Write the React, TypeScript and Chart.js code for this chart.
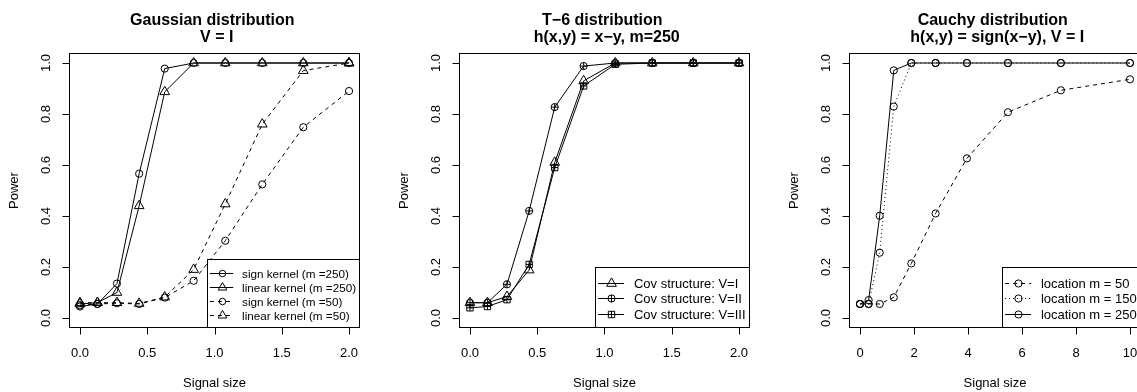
import React, { useEffect, useRef } from "react";
import { Chart, registerables } from "chart.js";

Chart.register(...registerables);

const FONT = '"Liberation Sans", Arial, Helvetica, sans-serif';

// ---------------- data ----------------
const signalSizes = [0, 0.13, 0.275, 0.44, 0.63, 0.845, 1.08, 1.355, 1.66, 2.0];
const gaussSignM250 = [0.045, 0.055, 0.135, 0.566, 0.978, 1.0, 1.0, 1.0, 1.0, 1.0];
const gaussLinearM250 = [0.055, 0.06, 0.1, 0.44, 0.887, 1.0, 1.0, 1.0, 1.0, 1.0];
const gaussSignM50 = [0.05, 0.055, 0.058, 0.055, 0.08, 0.146, 0.303, 0.524, 0.748, 0.89];
const gaussLinearM50 = [0.06, 0.06, 0.06, 0.057, 0.082, 0.19, 0.447, 0.76, 0.97, 1.0];

const t6CovI = [0.06, 0.06, 0.084, 0.188, 0.61, 0.93, 1.0, 1.0, 1.0, 1.0];
const t6CovII = [0.06, 0.06, 0.132, 0.42, 0.827, 0.988, 1.0, 1.0, 1.0, 1.0];
const t6CovIII = [0.04, 0.045, 0.072, 0.21, 0.59, 0.91, 0.995, 1.0, 1.0, 1.0];

const cauchySizes = [0, 0.32, 0.73, 1.25, 1.9, 2.8, 3.96, 5.48, 7.44, 10];
const cauchyM50 = [0.055, 0.055, 0.055, 0.081, 0.214, 0.41, 0.626, 0.807, 0.893, 0.936];
const cauchyM150 = [0.055, 0.055, 0.256, 0.829, 1.0, 1.0, 1.0, 1.0, 1.0, 1.0];
const cauchyM250 = [0.055, 0.07, 0.401, 0.971, 1.0, 1.0, 1.0, 1.0, 1.0, 1.0];

const powerTicks = [0, 0.2, 0.4, 0.6, 0.8, 1.0];
const powerTickLabels = ["0.0", "0.2", "0.4", "0.6", "0.8", "1.0"];
const signalTicks = [0, 0.5, 1.0, 1.5, 2.0];
const signalTickLabels = ["0.0", "0.5", "1.0", "1.5", "2.0"];
const cauchyTicks = [0, 2, 4, 6, 8, 10];
const cauchyTickLabels = ["0", "2", "4", "6", "8", "10"];

const xAxisTitle = "Signal size";
const yAxisTitle = "Power";

const gaussTitle = ["Gaussian distribution ", " V = I"];
const t6Title = ["T\u22126 distribution ", " h(x,y) = x\u2212y, m=250"];
const cauchyTitle = ["Cauchy distribution ", " h(x,y) = sign(x\u2212y), V = I"];

// ---------------- markers (R pch shapes, vector) ----------------
function drawMarker(ctx: CanvasRenderingContext2D, kind: string, x: number, y: number, s = 1) {
  const r = 3.6 * s;
  ctx.save();
  ctx.setLineDash([]);
  ctx.strokeStyle = "#000";
  ctx.lineWidth = 1;
  ctx.beginPath();
  if (kind === "circle" || kind === "circlePlus") {
    ctx.moveTo(x + r, y);
    ctx.arc(x, y, r, 0, Math.PI * 2);
  }
  if (kind === "circlePlus") {
    ctx.moveTo(x - r, y);
    ctx.lineTo(x + r, y);
    ctx.moveTo(x, y - r);
    ctx.lineTo(x, y + r);
  }
  if (kind === "triangle") {
    const tr = 1.5551 * r;
    const tx = 1.3468 * r;
    const ty = 0.7776 * r;
    ctx.moveTo(x, y - tr);
    ctx.lineTo(x + tx, y + ty);
    ctx.lineTo(x - tx, y + ty);
    ctx.closePath();
  }
  if (kind === "squarePlus") {
    const h = 0.8862 * r;
    ctx.rect(x - h, y - h, 2 * h, 2 * h);
    ctx.moveTo(x - h, y);
    ctx.lineTo(x + h, y);
    ctx.moveTo(x, y - h);
    ctx.lineTo(x, y + h);
  }
  ctx.stroke();
  ctx.restore();
}

// ---------------- panel definitions ----------------
type SeriesDef = { label: string; values: number[]; marker: string; dash: number[] };
type PanelDef = {
  xs: number[];
  series: SeriesDef[];
  xMin: number;
  xMax: number;
  xTicks: number[];
  xTickLabels: string[];
  title: string[];
  legendScale: number;
  canvasLeft: number;
  canvasWidth: number;
  plotLeft: number;
  plotRight: number;
};

const DASHED = [4, 4];
const DOTTED = [1, 3];
const SOLID: number[] = [];

const PLOT_TOP = 52.8;
const PLOT_BOTTOM = 328.2;
const H = 392;

const panels: PanelDef[] = [
  {
    xs: signalSizes,
    series: [
      { label: "sign kernel (m =250)", values: gaussSignM250, marker: "circle", dash: SOLID },
      { label: "linear kernel (m =250)", values: gaussLinearM250, marker: "triangle", dash: SOLID },
      { label: "sign kernel (m =50)", values: gaussSignM50, marker: "circle", dash: DASHED },
      { label: "linear kernel (m =50)", values: gaussLinearM50, marker: "triangle", dash: DASHED },
    ],
    xMin: -0.08,
    xMax: 2.08,
    xTicks: signalTicks,
    xTickLabels: signalTickLabels,
    title: gaussTitle,
    legendScale: 0.9,
    canvasLeft: 0,
    canvasWidth: 380,
    plotLeft: 69.2,
    plotRight: 359.8,
  },
  {
    xs: signalSizes,
    series: [
      { label: "Cov structure: V=I", values: t6CovI, marker: "triangle", dash: SOLID },
      { label: "Cov structure: V=II", values: t6CovII, marker: "circlePlus", dash: SOLID },
      { label: "Cov structure: V=III", values: t6CovIII, marker: "squarePlus", dash: SOLID },
    ],
    xMin: -0.08,
    xMax: 2.08,
    xTicks: signalTicks,
    xTickLabels: signalTickLabels,
    title: t6Title,
    legendScale: 1,
    canvasLeft: 380,
    canvasWidth: 380,
    plotLeft: 459.2,
    plotRight: 749.8,
  },
  {
    xs: cauchySizes,
    series: [
      { label: "location m = 50", values: cauchyM50, marker: "circle", dash: DASHED },
      { label: "location m = 150", values: cauchyM150, marker: "circle", dash: DOTTED },
      { label: "location m = 250", values: cauchyM250, marker: "circle", dash: SOLID },
    ],
    xMin: -0.4,
    xMax: 10.4,
    xTicks: cauchyTicks,
    xTickLabels: cauchyTickLabels,
    title: cauchyTitle,
    legendScale: 1,
    canvasLeft: 760,
    canvasWidth: 400,
    plotLeft: 849.2,
    plotRight: 1140.8,
  },
];

// ---------------- R-style decoration plugin ----------------
function makeDecor(p: PanelDef) {
  return {
    id: "rDecor",
    afterDatasetsDraw(chart: any) {
      const ctx: CanvasRenderingContext2D = chart.ctx;
      p.series.forEach((s, i) => {
        const meta = chart.getDatasetMeta(i);
        meta.data.forEach((pt: any) => drawMarker(ctx, s.marker, pt.x, pt.y));
      });
    },
    afterDraw(chart: any) {
      const ctx: CanvasRenderingContext2D = chart.ctx;
      const a = chart.chartArea;
      const xs = chart.scales.x;
      const ys = chart.scales.y;
      ctx.save();
      ctx.setLineDash([]);
      ctx.strokeStyle = "#000";
      ctx.fillStyle = "#000";
      ctx.lineWidth = 1;

      const L = Math.round(a.left) + 0.5;
      const R = Math.round(a.right) - 0.5;
      const T = Math.round(a.top) + 0.5;
      const B = Math.round(a.bottom) - 0.5;

      // legend (bottom-right)
      const s = p.legendScale;
      ctx.font = `${13 * s}px ${FONT}`;
      const maxW = Math.max(...p.series.map((it) => ctx.measureText(it.label).width));
      const yline = 15.4 * s;
      const lw = 38.4 * s + maxW + 5 * s;
      const lh = yline * (p.series.length + 1);
      const lLeft = Math.round(a.right - lw) + 0.5;
      const lTop = Math.round(a.bottom - lh) + 0.5;
      ctx.fillStyle = "#fff";
      ctx.fillRect(lLeft, lTop, R - lLeft, B - lTop);
      ctx.strokeRect(lLeft, lTop, R - lLeft, B - lTop);
      ctx.fillStyle = "#000";
      p.series.forEach((it, i) => {
        const cy = Math.round(lTop + yline * (i + 1)) + 0.5;
        ctx.setLineDash(it.dash);
        ctx.beginPath();
        ctx.moveTo(lLeft + 2.6 * s, cy);
        ctx.lineTo(lLeft + 28.6 * s, cy);
        ctx.stroke();
        ctx.setLineDash([]);
        drawMarker(ctx, it.marker, Math.round(lLeft + 15.6 * s) + 0.5, cy, s);
        ctx.textAlign = "left";
        ctx.textBaseline = "alphabetic";
        ctx.fillText(it.label, lLeft + 38.4 * s, cy + (0.716 * 13 * s) / 2);
      });

      // plot box
      ctx.strokeRect(L, T, R - L, B - T);

      // ticks & tick labels
      ctx.font = `13px ${FONT}`;
      ctx.textAlign = "center";
      ctx.textBaseline = "alphabetic";
      ctx.beginPath();
      p.xTicks.forEach((v) => {
        const x = Math.round(xs.getPixelForValue(v)) + 0.5;
        ctx.moveTo(x, B);
        ctx.lineTo(x, B + 7);
      });
      powerTicks.forEach((v) => {
        const y = Math.round(ys.getPixelForValue(v)) + 0.5;
        ctx.moveTo(L - 7, y);
        ctx.lineTo(L, y);
      });
      ctx.stroke();
      p.xTicks.forEach((v, i) => {
        ctx.fillText(p.xTickLabels[i], xs.getPixelForValue(v), a.bottom + 29.2);
      });
      powerTicks.forEach((v, i) => {
        ctx.save();
        ctx.translate(a.left - 19, ys.getPixelForValue(v));
        ctx.rotate(-Math.PI / 2);
        ctx.fillText(powerTickLabels[i], 0, 0);
        ctx.restore();
      });

      // axis titles
      const cxm = (a.left + a.right) / 2;
      const cym = (a.top + a.bottom) / 2;
      ctx.fillText(xAxisTitle, cxm, a.bottom + 58.8);
      ctx.save();
      ctx.translate(a.left - 51.5, cym);
      ctx.rotate(-Math.PI / 2);
      ctx.fillText(yAxisTitle, 0, 0);
      ctx.restore();

      // main title
      ctx.font = `bold 16px ${FONT}`;
      ctx.fillText(p.title[0], cxm, 25.2);
      ctx.fillText(p.title[1], cxm, 42.4);
      ctx.restore();
    },
  };
}

function PanelChart({ p }: { p: PanelDef }) {
  const ref = useRef<HTMLCanvasElement | null>(null);
  useEffect(() => {
    if (!ref.current) return;
    const padLeft = p.plotLeft - p.canvasLeft;
    const padRight = p.canvasWidth - (p.plotRight - p.canvasLeft);
    const chart = new Chart(ref.current, {
      type: "line",
      data: {
        datasets: p.series.map((s) => ({
          label: s.label,
          data: p.xs.map((x, i) => ({ x, y: s.values[i] })),
          borderColor: "#000",
          backgroundColor: "transparent",
          borderWidth: 1,
          borderDash: s.dash,
          pointRadius: 0,
          pointHoverRadius: 0,
          tension: 0,
          fill: false,
          clip: 8,
        })),
      },
      options: {
        responsive: false,
        animation: false,
        events: [],
        layout: {
          padding: { left: padLeft, right: padRight, top: PLOT_TOP, bottom: H - PLOT_BOTTOM },
        },
        scales: {
          x: { type: "linear", min: p.xMin, max: p.xMax, display: false },
          y: { type: "linear", min: -0.04, max: 1.04, display: false },
        },
        plugins: {
          legend: { display: false },
          tooltip: { enabled: false },
          title: { display: false },
        },
      },
      plugins: [makeDecor(p)],
    });
    return () => chart.destroy();
  }, [p]);
  return (
    <canvas
      ref={ref}
      width={p.canvasWidth}
      height={H}
      style={{ position: "absolute", left: p.canvasLeft, top: 0, width: p.canvasWidth, height: H }}
    />
  );
}

export default function App() {
  return (
    <div
      style={{
        position: "fixed",
        left: 0,
        top: 0,
        width: 1137,
        height: H,
        overflow: "hidden",
        background: "#fff",
      }}
    >
      {panels.map((p, i) => (
        <PanelChart key={i} p={p} />
      ))}
    </div>
  );
}
